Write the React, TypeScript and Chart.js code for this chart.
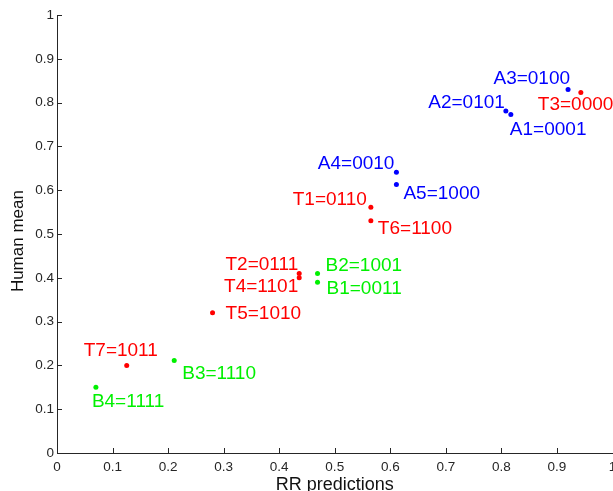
import React, { useEffect, useRef } from 'react';
import { Chart, registerables } from 'chart.js';

Chart.register(...registerables);

// Data: RR predictions (x) vs Human mean (y)
const aLabels = ['A1=0001', 'A2=0101', 'A3=0100', 'A4=0010', 'A5=1000'];
const aX = [0.817, 0.808, 0.92, 0.611, 0.611];
const aY = [0.773, 0.781, 0.83, 0.641, 0.613];

const tLabels = ['T1=0110', 'T2=0111', 'T3=0000', 'T4=1101', 'T5=1010', 'T6=1100', 'T7=1011'];
const tX = [0.565, 0.436, 0.943, 0.436, 0.28, 0.565, 0.1255];
const tY = [0.561, 0.41, 0.823, 0.4, 0.32, 0.53, 0.2];

const bLabels = ['B1=0011', 'B2=1001', 'B3=1110', 'B4=1111'];
const bX = [0.469, 0.469, 0.211, 0.07];
const bY = [0.39, 0.41, 0.211, 0.15];

const xTitle = 'RR predictions';
const yTitle = 'Human mean';
const tickLabels = ['0', '0.1', '0.2', '0.3', '0.4', '0.5', '0.6', '0.7', '0.8', '0.9', '1'];

// Label placement (style only): [textAlign, dx px, dy px to baseline]
const aPlace: [CanvasTextAlign, number, number][] = [
  ['left', -1, 21], ['right', -1, -3], ['right', 2, -5], ['right', -2, -3], ['left', 7, 14],
];
const tPlace: [CanvasTextAlign, number, number][] = [
  ['right', -4, -2], ['right', -1, -3], ['left', -43, 17], ['right', -1, 14],
  ['left', 13, 6], ['left', 7, 13], ['left', -43, -9],
];
const bPlace: [CanvasTextAlign, number, number][] = [
  ['left', 9, 12], ['left', 8, -2], ['left', 8, 18], ['left', -4, 20],
];

const FONT = '"Liberation Sans", Arial, Helvetica, sans-serif';
const AXIS = '#262626';

function pts(xs: number[], ys: number[]) {
  return xs.map((x, i) => ({ x, y: ys[i] }));
}

export default function App() {
  const ref = useRef<HTMLCanvasElement>(null);

  useEffect(() => {
    const canvas = ref.current;
    if (!canvas) return;

    const placements = [aPlace, tPlace, bPlace];
    const names = [aLabels, tLabels, bLabels];

    const pointLabels = {
      id: 'pointLabels',
      afterDatasetsDraw(chart: any) {
        const ctx = chart.ctx;
        chart.data.datasets.forEach((ds: any, di: number) => {
          const meta = chart.getDatasetMeta(di);
          meta.data.forEach((el: any, i: number) => {
            const [align, dx, dy] = placements[di][i];
            ctx.save();
            ctx.font = '19px ' + FONT;
            ctx.fillStyle = ds.backgroundColor;
            ctx.textAlign = align;
            ctx.textBaseline = 'alphabetic';
            ctx.fillText(names[di][i], el.x + dx, el.y + dy);
            ctx.restore();
          });
        });
      },
    };

    const inwardTicks = {
      id: 'inwardTicks',
      afterDraw(chart: any) {
        const { ctx, chartArea, scales } = chart;
        ctx.save();
        ctx.strokeStyle = AXIS;
        ctx.lineWidth = 1;
        ctx.beginPath();
        scales.x.ticks.forEach((t: any) => {
          const px = Math.round(scales.x.getPixelForValue(t.value)) + 0.5;
          ctx.moveTo(px, chartArea.bottom);
          ctx.lineTo(px, chartArea.bottom - 5);
        });
        scales.y.ticks.forEach((t: any) => {
          const py = Math.round(scales.y.getPixelForValue(t.value)) + 0.5;
          ctx.moveTo(chartArea.left, py);
          ctx.lineTo(chartArea.left + 5, py);
        });
        ctx.stroke();
        ctx.restore();
      },
    };

    const fmt = (_v: any, i: number) => tickLabels[i];

    const chart = new Chart(canvas, {
      type: 'scatter',
      data: {
        datasets: [
          { label: 'A', data: pts(aX, aY), backgroundColor: '#0000ff', borderColor: '#0000ff', pointRadius: 2.5, pointBorderWidth: 0 },
          { label: 'T', data: pts(tX, tY), backgroundColor: '#ff0000', borderColor: '#ff0000', pointRadius: 2.5, pointBorderWidth: 0 },
          { label: 'B', data: pts(bX, bY), backgroundColor: '#00f000', borderColor: '#00f000', pointRadius: 2.5, pointBorderWidth: 0 },
        ],
      },
      options: {
        responsive: false,
        animation: false,
        layout: { padding: { left: 0, top: 15, right: 20.5, bottom: 0 } },
        plugins: { legend: { display: false }, tooltip: { enabled: false } },
        scales: {
          x: {
            type: 'linear',
            min: 0,
            max: 1,
            ticks: { stepSize: 0.1, color: AXIS, padding: 6, maxRotation: 0, callback: fmt, font: { family: FONT, size: 13.5 } },
            grid: { display: false, drawTicks: false },
            border: { display: true, color: AXIS, width: 1 },
            title: { display: true, text: xTitle, color: '#111', font: { family: FONT, size: 18, lineHeight: 0.7 }, padding: 0 },
            afterFit: (s: any) => { s.height = 38; },
          },
          y: {
            type: 'linear',
            min: 0,
            max: 1,
            ticks: { stepSize: 0.1, color: AXIS, padding: 3, callback: fmt, font: { family: FONT, size: 13.5 } },
            grid: { display: false, drawTicks: false },
            border: { display: true, color: AXIS, width: 1 },
            title: { display: true, text: yTitle + '   ', color: '#111', font: { family: FONT, size: 17, lineHeight: 1 }, padding: { top: 9.5, bottom: 0 } },
            afterFit: (s: any) => { s.width = 57; },
          },
        },
      },
      plugins: [pointLabels, inwardTicks],
    } as any);

    return () => chart.destroy();
  }, []);

  return (
    <div style={{ position: 'fixed', left: 0, top: 0, width: 613, height: 491, overflow: 'hidden', background: '#fff' }}>
      <canvas ref={ref} width={633} height={491} style={{ display: 'block' }} />
    </div>
  );
}
